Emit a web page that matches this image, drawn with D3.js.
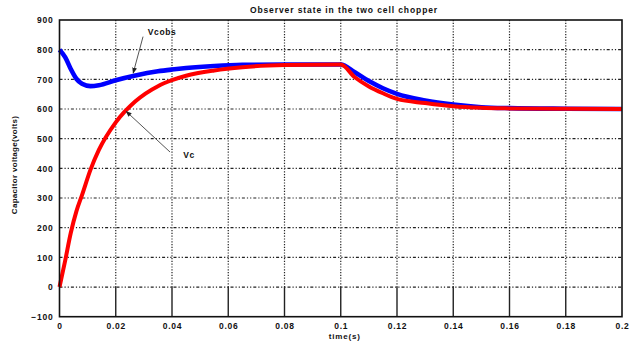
<!DOCTYPE html>
<html>
<head>
<meta charset="utf-8">
<script src="https://cdn.jsdelivr.net/npm/d3@7"></script>
<style>
  html, body { margin: 0; padding: 0; background: #fff; }
  svg text { font-family: "Liberation Sans", Arial, sans-serif; font-weight: bold; fill: #111; }
</style>
</head>
<body>
<svg id="chart" width="636" height="342"></svg>
<script>
// ---- data ----
const time = [0, 0.002, 0.004, 0.006, 0.008, 0.011, 0.014, 0.02, 0.027, 0.035, 0.04, 0.045, 0.055, 0.065, 0.08, 0.1,
              0.105, 0.11, 0.115, 0.12, 0.13, 0.14, 0.15, 0.16, 0.18, 0.2];
const vcObs = [800, 775, 735, 702, 685, 677, 680, 697, 713, 727, 733, 738, 745, 749, 750, 750,
               724, 694, 670, 651, 629, 615, 606, 603, 601, 600];
const vc    = [0, 88, 182, 255, 310, 395, 462, 555, 626, 677, 697, 712, 730, 741, 748, 750,
               707, 676, 653, 634, 620, 609, 604, 602, 600.5, 600];
const xTicks = [0, 0.02, 0.04, 0.06, 0.08, 0.1, 0.12, 0.14, 0.16, 0.18, 0.2];
const xTickLabels = ["0", "0.02", "0.04", "0.06", "0.08", "0.1", "0.12", "0.14", "0.16", "0.18", "0.2"];
const yTicks = [-100, 0, 100, 200, 300, 400, 500, 600, 700, 800, 900];
const title = "Observer state in the two cell chopper";
const xLabel = "time(s)";
const yLabel = "Capacitor voltage(volts)";
const seriesNames = ["Vcobs", "Vc"];

// ---- layout ----
const svg = d3.select("#chart");
const L = 59.5, R = 622, T = 20, B = 316.7;
const x = d3.scaleLinear().domain([0, 0.2]).range([L, R]);
const y = d3.scaleLinear().domain([-100, 900]).range([B, T]);

// grid
const g = svg.append("g");
g.selectAll("line.hg").data(yTicks.filter(d => d > -100 && d < 900)).join("line")
  .attr("x1", L).attr("x2", R).attr("y1", d => y(d)).attr("y2", d => y(d))
  .attr("stroke", "#222").attr("stroke-width", 1.2).attr("stroke-dasharray", "3,2,1.2,2,1.2,2");
g.selectAll("line.vg").data(xTicks.filter(d => d > 0 && d < 0.2)).join("line")
  .attr("x1", d => x(d)).attr("x2", d => x(d)).attr("y1", T).attr("y2", y(0))
  .attr("stroke", "#222").attr("stroke-width", 1.2).attr("stroke-dasharray", "1.2,1.6");
// solid lower segments
g.selectAll("line.vs").data(xTicks.filter(d => d > 0 && d < 0.2)).join("line")
  .attr("x1", d => x(d)).attr("x2", d => x(d)).attr("y1", y(0)).attr("y2", B)
  .attr("stroke", "#222").attr("stroke-width", 1.4);

// curves
const line = d3.line().x((d, i) => x(time[i])).y(d => y(d)).curve(d3.curveMonotoneX);
svg.append("path").datum(vcObs).attr("d", line)
  .attr("fill", "none").attr("stroke", "#0000ff").attr("stroke-width", 4.6).attr("stroke-linejoin", "round");
svg.append("path").datum(vc).attr("d", line)
  .attr("fill", "none").attr("stroke", "#ff0000").attr("stroke-width", 4).attr("stroke-linejoin", "round");

// frame
svg.append("rect").attr("x", L).attr("y", T).attr("width", R - L).attr("height", B - T)
  .attr("fill", "none").attr("stroke", "#111").attr("stroke-width", 1.6);

// axes labels
const axB = d3.axisBottom(x).tickValues(xTicks).tickFormat((d, i) => xTickLabels[i]).tickSize(0).tickPadding(6);
const gx = svg.append("g").attr("transform", `translate(0,${B})`).call(axB);
gx.select(".domain").remove();
gx.selectAll("text").attr("font-size", 8.5).attr("letter-spacing", 0.8).attr("fill", "#111")
  .style("font-family", "Liberation Sans, Arial, sans-serif").style("font-weight", "bold");

const axL = d3.axisLeft(y).tickValues(yTicks).tickFormat(d => d < 0 ? "\u2212" + Math.abs(d) : d).tickSize(0).tickPadding(6);
const gy = svg.append("g").attr("transform", `translate(${L},0)`).call(axL);
gy.select(".domain").remove();
gy.selectAll("text").attr("font-size", 8.5).attr("letter-spacing", 0.8).attr("fill", "#111")
  .style("font-family", "Liberation Sans, Arial, sans-serif").style("font-weight", "bold");

svg.append("text").attr("x", 344).attr("y", 13).attr("text-anchor", "middle")
  .attr("font-size", 8.5).attr("letter-spacing", 0.9).text(title);
svg.append("text").attr("x", (L + R) / 2 + 4).attr("y", 339).attr("text-anchor", "middle")
  .attr("font-size", 8).attr("letter-spacing", 0.8).text(xLabel);
svg.append("text").attr("transform", "translate(17,165) rotate(-90)").attr("text-anchor", "middle")
  .attr("font-size", 8).attr("letter-spacing", 0.3).text(yLabel);

// annotations
svg.append("defs").append("marker").attr("id", "ah").attr("viewBox", "0 0 10 10")
  .attr("refX", 9).attr("refY", 5).attr("markerWidth", 6).attr("markerHeight", 6).attr("orient", "auto")
  .append("path").attr("d", "M0,1 L10,5 L0,9 z").attr("fill", "#222");
svg.append("line").attr("x1", x(0.0297)).attr("y1", y(844)).attr("x2", x(0.0262)).attr("y2", y(721))
  .attr("stroke", "#555").attr("stroke-width", 1).attr("marker-end", "url(#ah)");
svg.append("text").attr("x", x(0.0314)).attr("y", y(849)).attr("font-size", 8.5).attr("letter-spacing", 0.6).text(seriesNames[0]);
svg.append("line").attr("x1", x(0.0393)).attr("y1", y(455)).attr("x2", x(0.0237)).attr("y2", y(592))
  .attr("stroke", "#555").attr("stroke-width", 1).attr("marker-end", "url(#ah)");
svg.append("text").attr("x", x(0.0440)).attr("y", y(435)).attr("font-size", 8.5).attr("letter-spacing", 0.6).text(seriesNames[1]);
</script>
</body>
</html>
